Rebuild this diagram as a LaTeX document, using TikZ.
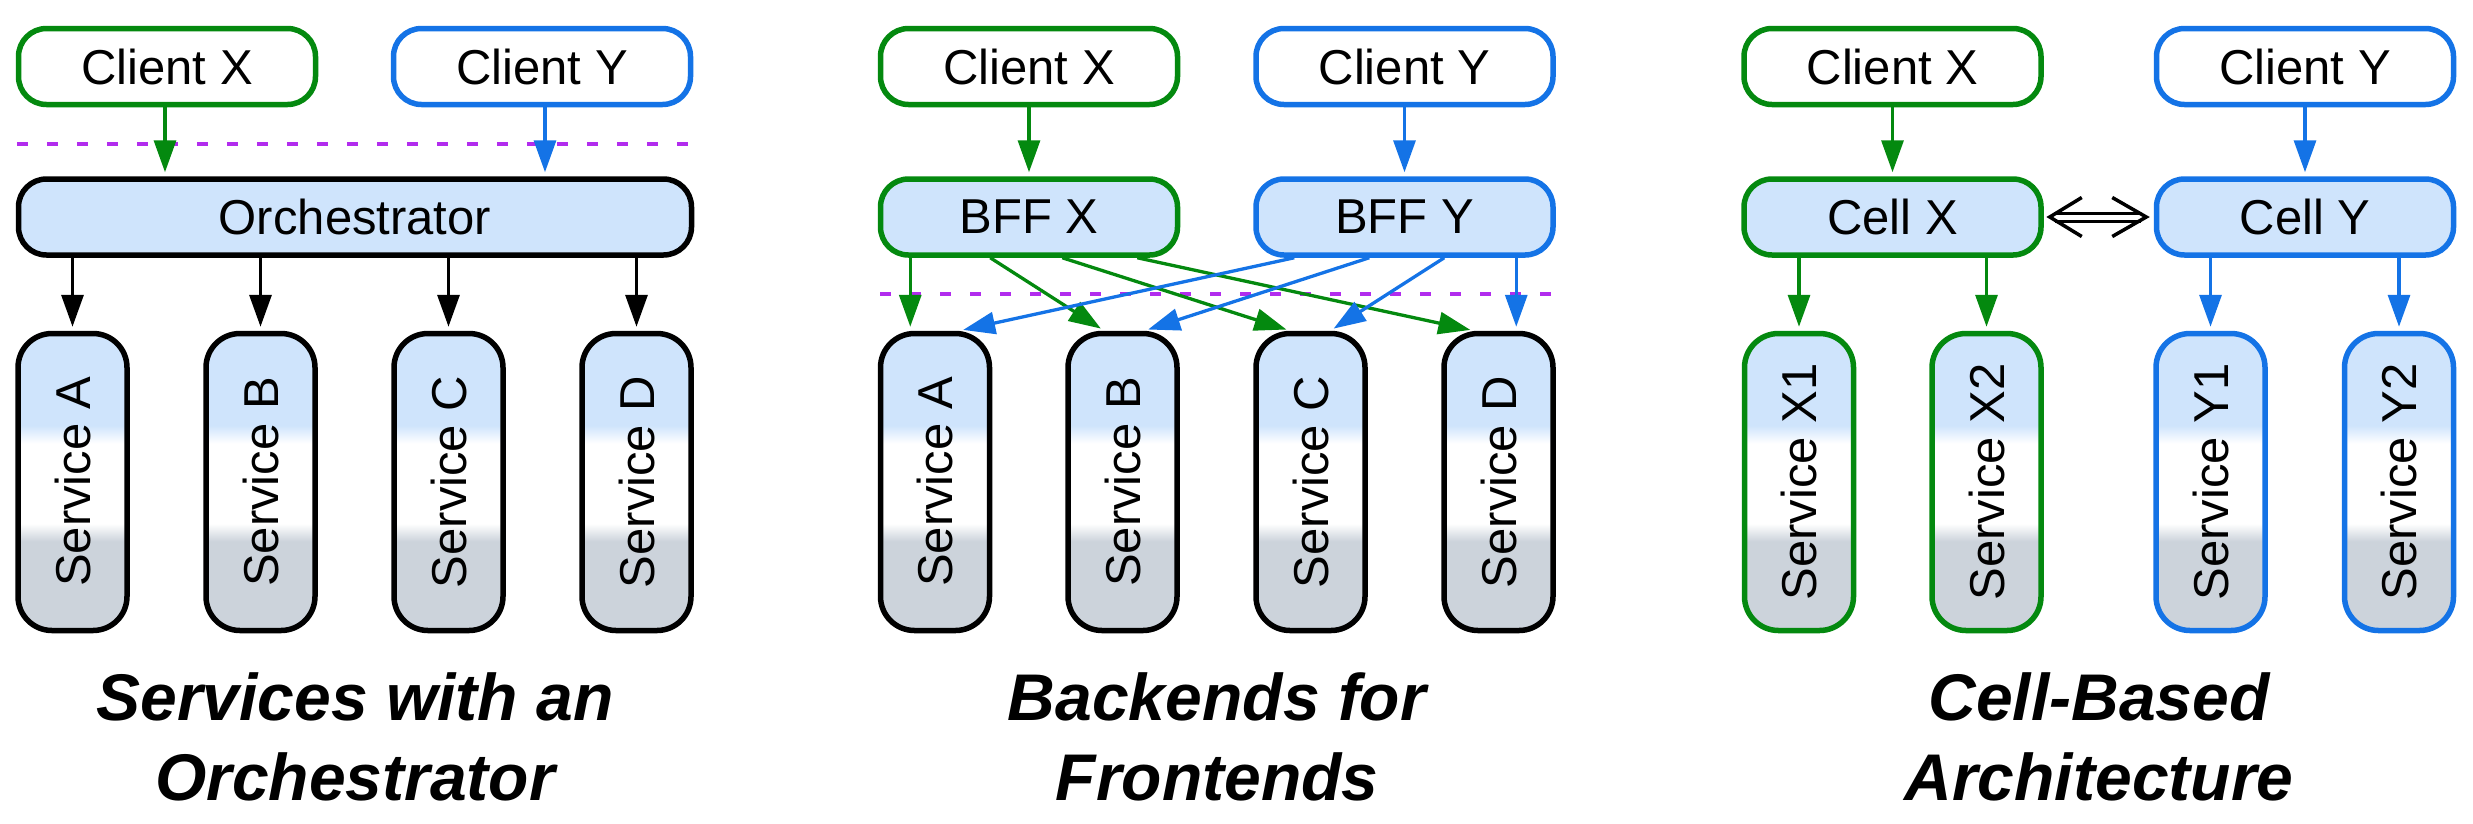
\documentclass[tikz,border=0pt]{standalone}
\usepackage{fontspec}
\usepackage{graphicx}
\setmainfont{Liberation Sans}
\usetikzlibrary{arrows.meta,calc}
\definecolor{gr}{RGB}{4,137,15}
\definecolor{bl}{RGB}{20,115,230}
\definecolor{svblue}{RGB}{207,228,252}
\definecolor{svgray}{RGB}{204,211,219}
\definecolor{sepc}{RGB}{178,44,238}
\pgfdeclareverticalshading{svcshade}{100bp}{color(0bp)=(svgray); color(40bp)=(svgray); color(43bp)=(white); color(56.5bp)=(white); color(59.5bp)=(svblue); color(100bp)=(svblue)}
\tikzset{
  box/.style={rectangle, rounded corners=28pt, line width=5.5pt, minimum height=76pt, inner sep=0pt, font=\fontsize{49}{58}\selectfont, text=black},
  client/.style={box, fill=white, minimum width=297pt},
  hub/.style={box, fill=svblue, minimum width=297pt},
  svc/.style={box, rounded corners=34pt, minimum width=109pt, minimum height=297pt, shading=svcshade, shading angle=0},
  arr/.style={line width=3.3pt, -{Triangle[length=32pt,width=22pt]}, shorten >=4pt},
  sepline/.style={draw=sepc, line width=3.5pt, dash pattern=on 11pt off 19pt},
  ttl/.style={font=\fontsize{66}{80}\selectfont\bfseries\itshape, anchor=base, inner sep=0pt, text=black},
  chev/.style={line width=3.5pt, line join=miter, black},
  dbl/.style={line width=3pt, double=white, double distance=5pt, black},
}
\begin{document}
\begin{tikzpicture}[x=1pt,y=-1pt]
\useasboundingbox (0,0) rectangle (2473,823);

% ---------- separator lines ----------
\coordinate (d1a) at (17,144);
\coordinate (d1b) at (692,144);
\coordinate (d2a) at (880,294);
\coordinate (d2b) at (1555,294);
\draw[sepline] (d1a) -- (d1b);
\draw[sepline] (d2a) -- (d2b);

% ---------- left panel ----------
\node[client, draw=gr] (lcx) at (167,66.5) {Client X};
\node[client, draw=bl] (lcy) at (542,66.5) {Client Y};
\node[hub, draw=black, minimum width=673pt] (orch) at (355,217) {Orchestrator};
\node[svc, draw=black] (lsa) at (72.5,482) {\rotatebox{90}{Service A}};
\node[svc, draw=black] (lsb) at (260.5,482) {\rotatebox{90}{Service B}};
\node[svc, draw=black] (lsc) at (448.5,482) {\rotatebox{90}{Service C}};
\node[svc, draw=black] (lsd) at (636.5,482) {\rotatebox{90}{Service D}};

\draw[arr, gr] ($(lcx.south)+(-2,0)$) -- ($(lcx.south |- orch.north)+(-2,0)$);
\draw[arr, bl] ($(lcy.south)+(3,0)$) -- ($(lcy.south |- orch.north)+(3,0)$);
\foreach \s in {lsa,lsb,lsc,lsd}{
  \draw[arr, black] (\s.north |- orch.south) -- (\s.north);
}

\node[ttl] (t1a) at (355,720) {Services with an};
\node[ttl] (t1b) at (355,800) {Orchestrator};

% ---------- middle panel ----------
\node[client, draw=gr] (mcx) at (1029,66.5) {Client X};
\node[client, draw=bl] (mcy) at (1404.5,66.5) {Client Y};
\node[hub, draw=gr] (bffx) at (1029,217) {BFF X};
\node[hub, draw=bl] (bffy) at (1404.5,217) {BFF Y};
\node[svc, draw=black] (msa) at (935,482) {\rotatebox{90}{Service A}};
\node[svc, draw=black] (msb) at (1122.5,482) {\rotatebox{90}{Service B}};
\node[svc, draw=black] (msc) at (1310.5,482) {\rotatebox{90}{Service C}};
\node[svc, draw=black] (msd) at (1498.5,482) {\rotatebox{90}{Service D}};

\draw[arr, gr] (mcx.south) -- (bffx.north);
\draw[arr, bl] (mcy.south) -- (bffy.north);

\draw[arr, gr] ([xshift=32.5pt]bffx.south west) -- ([xshift=32.5pt]msa.north west);
\draw[arr, gr] ([xshift=112.5pt]bffx.south west) -- ([xshift=39pt]msb.north west);
\draw[arr, gr] ([xshift=184.5pt]bffx.south west) -- ([xshift=37pt]msc.north west);
\draw[arr, gr] ([xshift=259.5pt]bffx.south west) -- ([xshift=33pt]msd.north west);

\draw[arr, bl] ([xshift=41pt]bffy.south west) -- ([xshift=81.5pt]msa.north west);
\draw[arr, bl] ([xshift=116pt]bffy.south west) -- ([xshift=79pt]msb.north west);
\draw[arr, bl] ([xshift=191pt]bffy.south west) -- ([xshift=77pt]msc.north west);
\draw[arr, bl] ([xshift=263pt]bffy.south west) -- ([xshift=75pt]msd.north west);

\node[ttl] (t2a) at (1217,720) {Backends for};
\node[ttl] (t2b) at (1217,800) {Frontends};

% ---------- right panel ----------
\node[client, draw=gr] (rcx) at (1892.5,66.5) {Client X};
\node[client, draw=bl] (rcy) at (2305,66.5) {Client Y};
\node[hub, draw=gr] (cellx) at (1892.5,217) {Cell X};
\node[hub, draw=bl] (celly) at (2305,217) {Cell Y};
\node[svc, draw=gr] (rx1) at (1799,482) {\rotatebox{90}{Service X1}};
\node[svc, draw=gr] (rx2) at (1986.5,482) {\rotatebox{90}{Service X2}};
\node[svc, draw=bl] (ry1) at (2210.5,482) {\rotatebox{90}{Service Y1}};
\node[svc, draw=bl] (ry2) at (2399,482) {\rotatebox{90}{Service Y2}};

\draw[arr, gr] (rcx.south) -- (cellx.north);
\draw[arr, bl] (rcy.south) -- (celly.north);
\draw[arr, gr] (rx1.north |- cellx.south) -- (rx1.north);
\draw[arr, gr] (rx2.north |- cellx.south) -- (rx2.north);
\draw[arr, bl] (ry1.north |- celly.south) -- (ry1.north);
\draw[arr, bl] (ry2.north |- celly.south) -- (ry2.north);

% double arrow between cells
\draw[dbl] ([xshift=11pt]cellx.east) -- ([xshift=-12.5pt]celly.west);
\draw[chev] ([shift={(38,-19.5)}]cellx.east) -- ([xshift=6pt]cellx.east) -- ([shift={(38,19.5)}]cellx.east);
\draw[chev] ([shift={(-41.5,-19.5)}]celly.west) -- ([xshift=-7.5pt]celly.west) -- ([shift={(-41.5,19.5)}]celly.west);

\node[ttl] (t3a) at (2099,720) {Cell-Based};
\node[ttl] (t3b) at (2099,800) {Architecture};
\end{tikzpicture}
\end{document}
